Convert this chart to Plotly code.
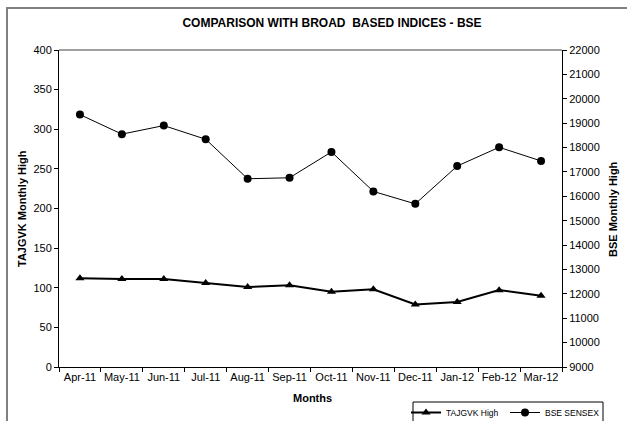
import plotly.graph_objects as go

months = ["Apr-11", "May-11", "Jun-11", "Jul-11", "Aug-11", "Sep-11",
          "Oct-11", "Nov-11", "Dec-11", "Jan-12", "Feb-12", "Mar-12"]
tajgvk_high = [112, 111, 111, 106, 101, 103, 95, 98, 79, 82, 97, 90]
bse_sensex = [19350, 18550, 18900, 18340, 16720, 16760, 17820, 16200, 15690, 17240, 18010, 17450]

FONT = "Liberation Sans, Arial, sans-serif"

# plot area in pixels
L, R, T, B = 59, 562, 50, 367
W, H = 627, 421
pw, ph = R - L, B - T

def px(x):
    return (x - L) / pw

def py(y):
    return (B - y) / ph

fig = go.Figure()
fig.add_trace(go.Scatter(
    x=months, y=tajgvk_high, name="TAJGVK High", mode="lines+markers",
    line=dict(color="black", width=2),
    marker=dict(symbol="triangle-up", size=8, color="black"),
    yaxis="y"))
fig.add_trace(go.Scatter(
    x=months, y=bse_sensex, name="BSE SENSEX", mode="lines+markers",
    line=dict(color="black", width=1),
    marker=dict(symbol="circle", size=8, color="black"),
    yaxis="y2"))

fig.update_layout(
    width=W, height=H,
    margin=dict(l=L, r=W - R, t=T, b=H - B, autoexpand=False),
    paper_bgcolor="white", plot_bgcolor="white",
    font=dict(family=FONT, size=11, color="black"),
    title=dict(text="<b>COMPARISON WITH BROAD  BASED INDICES - BSE</b>",
               x=px(332), xanchor="center", y=1 - 23 / H, yanchor="middle",
               xref="paper", font=dict(size=12, family=FONT, color="black")),
    xaxis=dict(
        type="category", tickson="boundaries", ticks="outside", ticklen=4,
        tickcolor="black", showline=True, linecolor="black", linewidth=1,
        showgrid=False, tickfont=dict(size=11, family=FONT), tickangle=0,
        automargin=False, range=[-0.5, 11.5]),
    yaxis=dict(
        range=[0, 400], dtick=50, ticks="outside", ticklen=4, tickcolor="black",
        showline=True, linecolor="black", linewidth=1, showgrid=False,
        zeroline=False, tickfont=dict(size=11, family=FONT), automargin=False),
    yaxis2=dict(
        range=[9000, 22000], dtick=1000, overlaying="y", side="right",
        ticks="outside", ticklen=4, tickcolor="black", showline=True,
        linecolor="black", linewidth=1, showgrid=False, zeroline=False,
        tickformat="d", tickfont=dict(size=11, family=FONT), automargin=False),
    legend=dict(
        orientation="h", x=px(406), xanchor="left", y=py(398), yanchor="top",
        borderwidth=0, bgcolor="rgba(0,0,0,0)",
        entrywidth=54, entrywidthmode="pixels",
        font=dict(size=8.5, family=FONT), itemwidth=30, tracegroupgap=0),
    showlegend=True,
    annotations=[
        dict(text="<b>Months</b>", xref="paper", yref="paper",
             x=px(312), y=py(398), xanchor="center", yanchor="middle",
             showarrow=False, font=dict(size=11, family=FONT)),
        dict(text="<b>TAJGVK Monthly High</b>", xref="paper", yref="paper",
             x=px(22), y=py(209), xanchor="center", yanchor="middle",
             textangle=-90, showarrow=False, font=dict(size=11, family=FONT)),
        dict(text="<b>BSE Monthly High</b>", xref="paper", yref="paper",
             x=px(613), y=py(209), xanchor="center", yanchor="middle",
             textangle=-90, showarrow=False, font=dict(size=11, family=FONT)),
    ],
    shapes=[
        # outer chart border (left and top visible)
        dict(type="rect", xref="paper", yref="paper",
             x0=px(7), x1=px(660), y0=py(460), y1=py(8),
             line=dict(color="#808080", width=2), layer="below"),
        # top plot-area line in gray
        dict(type="line", xref="paper", yref="paper",
             x0=0, x1=1, y0=1, y1=1,
             line=dict(color="#a0a0a0", width=2)),
        # legend box
        dict(type="rect", xref="paper", yref="paper",
             x0=px(413), x1=px(603), y0=py(440), y1=py(402),
             line=dict(color="black", width=1), layer="above"),
    ],
)

fig.write_html("out.html",
               config={"displayModeBar": False},
               post_script="document.body.style.margin='0';")
